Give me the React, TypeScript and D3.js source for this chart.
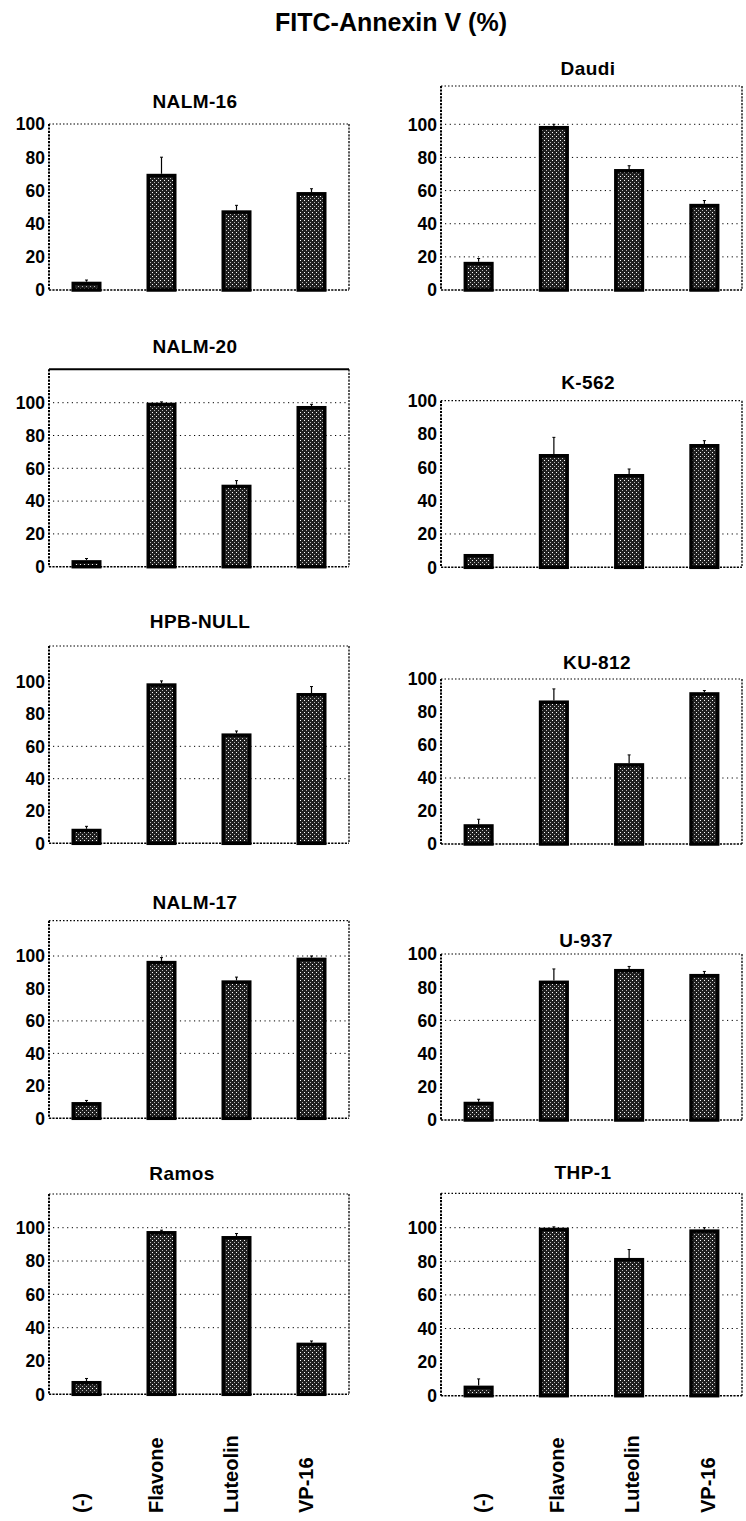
import React from "react";
import * as d3 from "d3";

const chartTitle = "FITC-Annexin V  (%)";
const treatments = ["(-)", "Flavone", "Luteolin", "VP-16"];
const yTicks = [0, 20, 40, 60, 80, 100];

const cellLines = ["NALM-16", "Daudi", "NALM-20", "K-562", "HPB-NULL", "KU-812", "NALM-17", "U-937", "Ramos", "THP-1"];

const nalm16 = [5, 70, 48, 59];
const nalm16Err = [1, 10, 3, 2];
const daudi = [17, 99, 73, 52];
const daudiErr = [2, 1, 2, 2];
const nalm20 = [4, 100, 50, 98];
const nalm20Err = [1, 0.5, 2.5, 1];
const k562 = [8, 68, 56, 74];
const k562Err = [0, 10, 3, 2];
const hpbNull = [9, 99, 68, 93];
const hpbNullErr = [1.5, 1.5, 1.5, 4];
const ku812 = [12, 87, 49, 92];
const ku812Err = [3, 7, 5, 1];
const nalm17 = [10, 97, 85, 99];
const nalm17Err = [1, 2, 2, 1];
const u937 = [11, 84, 91, 88];
const u937Err = [1.5, 7, 1.5, 1.5];
const ramos = [8, 98, 95, 31];
const ramosErr = [1.5, 0.5, 1.5, 1];
const thp1 = [6, 100, 82, 99];
const thp1Err = [4, 0.5, 5, 1];

const seriesValues = [nalm16, daudi, nalm20, k562, hpbNull, ku812, nalm17, u937, ramos, thp1];
const seriesErrors = [nalm16Err, daudiErr, nalm20Err, k562Err, hpbNullErr, ku812Err, nalm17Err, u937Err, ramosErr, thp1Err];
// visible dotted gridlines in each panel (as seen in the scan)
const gridVisible = [[], [100, 80, 60, 40, 20], [100, 80, 60, 40, 20], [20], [60, 40], [40], [100, 60, 40], [60], [100, 80, 60, 40], [100, 80, 60, 40]];

// layout (pixels)
const colX = [49, 441];
const colW = [300, 301];
const labelShift = [-6, 3];
const geom = [
  { top: 124, y100: 124, y0: 290, tx: 195, ty: 108 },
  { top: 86, y100: 124.3, y0: 290, tx: 588, ty: 75 },
  { top: 369.3, y100: 402.7, y0: 566.7, tx: 195, ty: 352.5, solidTop: true },
  { top: 400.7, y100: 400.7, y0: 567.3, tx: 588, ty: 389 },
  { top: 646, y100: 681.7, y0: 843.3, tx: 200, ty: 627.5 },
  { top: 679, y100: 679, y0: 844, tx: 597, ty: 669 },
  { top: 920.7, y100: 956, y0: 1118.3, tx: 195, ty: 909 },
  { top: 954, y100: 954, y0: 1120, tx: 586, ty: 947 },
  { top: 1194, y100: 1227.7, y0: 1394.3, tx: 182, ty: 1180 },
  { top: 1193.3, y100: 1227.7, y0: 1395.7, tx: 583, ty: 1179 },
];

const FONT = "'Liberation Sans', Arial, Helvetica, sans-serif";

function Panel({ i }: { i: number }) {
  const col = i % 2;
  const g = geom[i];
  const x0 = colX[col];
  const w = colW[col];
  const x = d3.scaleBand().domain(treatments).range([x0, x0 + w]).paddingInner(0.6).paddingOuter(0.3);
  const y = d3.scaleLinear().domain([0, 100]).range([g.y0, g.y100]);
  const vals = seriesValues[i];
  const errs = seriesErrors[i];
  const dash = "2.2,1.2";
  const grids = gridVisible[i];
  return (
    <g>
      <text x={g.tx} y={g.ty} textAnchor="middle" fontFamily={FONT} fontWeight="bold" fontSize={19} letterSpacing={0.4} fill="#000">
        {cellLines[i]}
      </text>
      {grids.map((v) => (
        <line key={"g" + v} x1={x0 + 4} x2={x0 + w - 2} y1={y(v)} y2={y(v)} stroke="#000" strokeWidth={1} strokeDasharray="1.2,3.5" />
      ))}
      {/* frame */}
      <line x1={x0} x2={x0 + w} y1={g.top} y2={g.top} stroke="#000" strokeWidth={g.solidTop ? 2 : 1.2} strokeDasharray={g.solidTop ? undefined : "1.5,2"} />
      <line x1={x0 + w} x2={x0 + w} y1={g.top} y2={g.y0} stroke="#000" strokeWidth={1.3} strokeDasharray={dash} />
      <line x1={x0} x2={x0 + w} y1={g.y0} y2={g.y0} stroke="#000" strokeWidth={1.5} strokeDasharray={dash} />
      <line x1={x0} x2={x0} y1={g.top} y2={g.y0} stroke="#000" strokeWidth={2} strokeDasharray={dash} />
      {yTicks.map((t) => (
        <text key={t} x={x0 - 4} y={y(t)} dy="0.36em" textAnchor="end" fontFamily={FONT} fontWeight="bold" fontSize={17.5} fill="#000">
          {t}
        </text>
      ))}
      {treatments.map((tr, k) => {
        const bx = x(tr)!;
        const bw = x.bandwidth();
        const top = y(vals[k]);
        const cx = bx + bw / 2;
        return (
          <g key={tr}>
            {errs[k] > 0 && (
              <line x1={cx} x2={cx} y1={top} y2={y(vals[k] + errs[k])} stroke="#000" strokeWidth={1.2} />
            )}
            {errs[k] > 0 && (
              <line x1={cx - 1.5} x2={cx + 1.5} y1={y(vals[k] + errs[k])} y2={y(vals[k] + errs[k])} stroke="#000" strokeWidth={1} />
            )}
            <rect x={bx + 1.75} y={top + 1.75} width={bw - 3.5} height={Math.max(0, g.y0 - top - 1.75)} fill="url(#dither)" stroke="#000" strokeWidth={3.5} />
          </g>
        );
      })}
    </g>
  );
}

function XLabels({ col }: { col: number }) {
  const x0 = colX[col];
  const w = colW[col];
  const x = d3.scaleBand().domain(treatments).range([x0, x0 + w]).paddingInner(0.6).paddingOuter(0.3);
  const yb = 1513;
  return (
    <g>
      {treatments.map((tr) => {
        const cx = x(tr)! + x.bandwidth() / 2 + labelShift[col];
        return (
          <text key={tr} transform={`translate(${cx},${yb}) rotate(-90)`} dy="0.36em" textAnchor="start" fontFamily={FONT} fontWeight="bold" fontSize={20} fill="#000">
            {tr}
          </text>
        );
      })}
    </g>
  );
}

export default function App() {
  return (
    <svg width={746} height={1521} style={{ position: "absolute", left: 0, top: 0, display: "block", background: "#fff" }}>
      <defs>
        <pattern id="dither" width={4} height={4} patternUnits="userSpaceOnUse">
          <rect width={4} height={4} fill="#202020" />
          <rect x={0} y={0} width={1} height={1} fill="#ffffff" />
          <rect x={2} y={2} width={1} height={1} fill="#b8b8b8" />
        </pattern>
      </defs>
      <rect width={746} height={1521} fill="#fff" />
      <text x={391} y={31} textAnchor="middle" fontFamily={FONT} fontWeight="bold" fontSize={25} fill="#000">
        {chartTitle}
      </text>
      {cellLines.map((_, i) => (
        <Panel key={i} i={i} />
      ))}
      <XLabels col={0} />
      <XLabels col={1} />
    </svg>
  );
}
